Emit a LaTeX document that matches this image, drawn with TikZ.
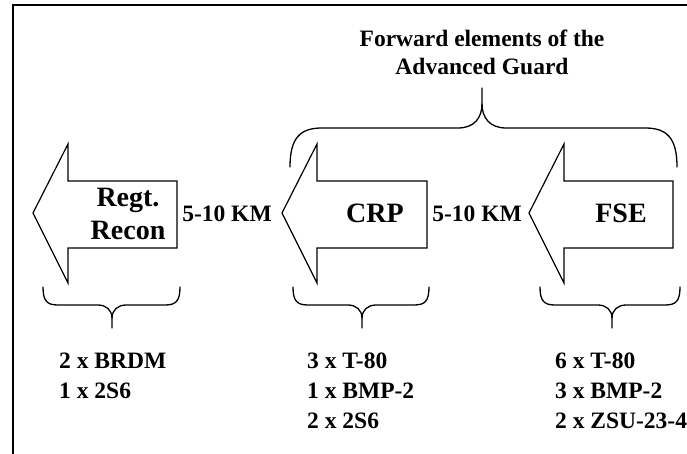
\documentclass[tikz,border=0pt]{standalone}
\usepackage{fontspec}
\setmainfont{Liberation Serif}
\usetikzlibrary{calc,positioning}

\tikzset{
    lbl/.style={font=\bfseries\fontsize{23.5}{29}\selectfont, inner sep=0pt},
    big/.style={font=\bfseries\fontsize{28}{33}\selectfont, inner sep=0pt},
    arrowshape/.style={line width=1.2pt, line join=miter},
    brc/.style={line width=1.3pt, line cap=round}
}

\begin{document}
\begin{tikzpicture}[x=1pt, y=-1pt]
    \useasboundingbox (0,0) rectangle (687,454);
    \draw[line width=2pt] (13,470) |- (710,5);

    % the three arrows, pointing left
    \draw[arrowshape] (33,213) -- (68,144) -- (68,181) -- (177,181) -- (177,248) -- (68,248) -- (68,283) -- cycle;
    \draw[arrowshape] (282,213) -- (317,144) -- (317,181) -- (427,181) -- (427,248) -- (317,248) -- (317,283) -- cycle;
    \draw[arrowshape] (529,213) -- (564,144) -- (564,181) -- (673,181) -- (673,248) -- (564,248) -- (564,283) -- cycle;

    \node[big, align=center] (regt) at (128,214) {Regt.\\Recon};
    \node[big] (crp) at (375,213) {CRP};
    \node[big] (fse) at (621,213) {FSE};
    \node[lbl] (gapa) at (227,214) {5-10 KM};
    \node[lbl] (gapb) at (477,214) {5-10 KM};

    % brace over CRP and FSE
    \draw[brc] (290,167) .. controls (290,138) and (300,128) .. (322,128) -- (458,128)
        .. controls (474,128) and (482,118) .. (482,104) -- (482,88);
    \draw[brc] (482,104) .. controls (482,118) and (490,128) .. (506,128) -- (645,128)
        .. controls (667,128) and (677,138) .. (677,167);
    \node[lbl, align=center, anchor=north, font=\bfseries\fontsize{23.5}{28}\selectfont] (fwd) at (482,30)
        {Forward elements of the\\Advanced Guard};

    % braces under the arrows
    \draw[brc] (43,287) .. controls (43,301) and (47,305) .. (58,305) -- (98,305)
        .. controls (106,305) and (112,310) .. (112,318) -- (112,328);
    \draw[brc] (112,318) .. controls (112,310) and (118,305) .. (126,305) -- (165,305)
        .. controls (176,305) and (180,301) .. (180,287);
    \draw[brc] (293,287) .. controls (293,301) and (297,305) .. (308,305) -- (348,305)
        .. controls (356,305) and (362,310) .. (362,318) -- (362,328);
    \draw[brc] (362,318) .. controls (362,310) and (368,305) .. (376,305) -- (414,305)
        .. controls (425,305) and (429,301) .. (429,287);
    \draw[brc] (540,287) .. controls (540,301) and (544,305) .. (555,305) -- (598,305)
        .. controls (606,305) and (612,310) .. (612,318) -- (612,328);
    \draw[brc] (612,318) .. controls (612,310) and (618,305) .. (626,305) -- (665,305)
        .. controls (676,305) and (680,301) .. (680,287);

    \node[lbl, align=left, anchor=north west, font=\bfseries\fontsize{23.5}{30}\selectfont] (reconlist) at (59,353)
        {2 x BRDM\\1 x 2S6};
    \node[lbl, align=left, anchor=north west, font=\bfseries\fontsize{23.5}{30}\selectfont] (crplist) at (307,353)
        {3 x T-80\\1 x BMP-2\\2 x 2S6};
    \node[lbl, align=left, anchor=north west, font=\bfseries\fontsize{23.5}{30}\selectfont] (fselist) at (555,353)
        {6 x T-80\\3 x BMP-2\\2 x ZSU-23-4};
\end{tikzpicture}
\end{document}
